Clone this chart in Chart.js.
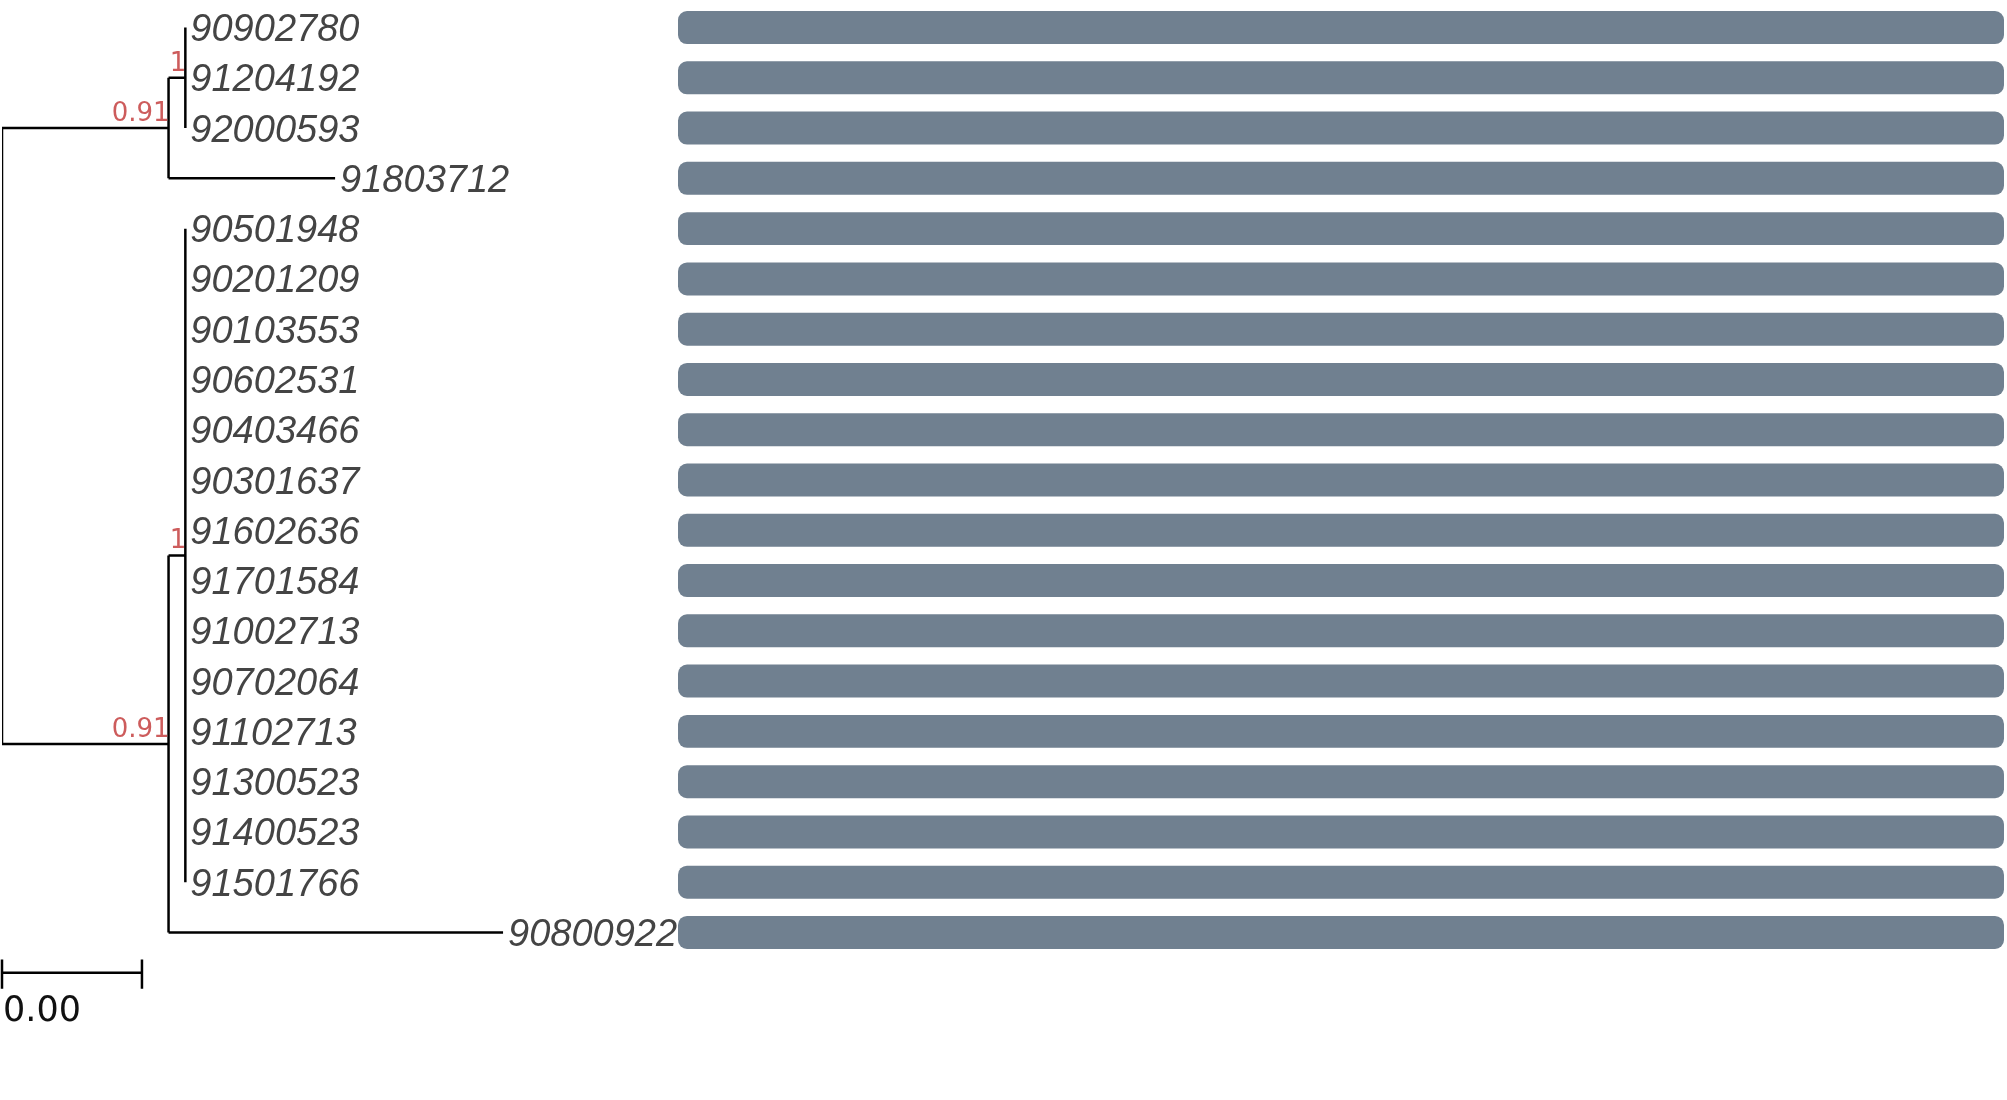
<!DOCTYPE html>
<html>
<head>
<meta charset="utf-8">
<script src="https://cdn.jsdelivr.net/npm/chart.js@4.4.1/dist/chart.umd.min.js"></script>
<style>
html, body { margin: 0; padding: 0; background: #fff; overflow: hidden; }
#treeBox { position: absolute; left: 0; top: 0; width: 678px; height: 1100px; }
#barBox { position: absolute; left: 678px; top: 0; width: 1329px; height: 1100px; }
</style>
</head>
<body>
<div id="treeBox"><canvas id="treeChart"></canvas></div>
<div id="barBox"><canvas id="barChart"></canvas></div>
<script>
// leaves, top to bottom
const leafNames = ['90902780', '91204192', '92000593', '91803712', '90501948', '90201209',
    '90103553', '90602531', '90403466', '90301637', '91602636', '91701584', '91002713',
    '90702064', '91102713', '91300523', '91400523', '91501766', '90800922'];
// parent node of each leaf and the branch length leading to it
const leafParent = [2, 2, 2, 1, 4, 4, 4, 4, 4, 4, 4, 4, 4, 4, 4, 4, 4, 4, 3];
const leafBranch = [0, 0, 0, 0.00119, 0, 0, 0, 0, 0, 0, 0, 0, 0, 0, 0, 0, 0, 0, 0.00239];
// internal nodes: 0 root, 1 upper clade, 2 its subclade, 3 lower clade, 4 its subclade
const nodeParent = [-1, 0, 1, 0, 3];
const nodeBranch = [0, 0.00119, 0.00012, 0.00119, 0.00012];
const nodeSupport = ['', '0.91', '1', '0.91', '1'];
// alignment length per sequence
const seqLength = [1000, 1000, 1000, 1000, 1000, 1000, 1000, 1000, 1000, 1000,
    1000, 1000, 1000, 1000, 1000, 1000, 1000, 1000, 1000];
const scaleBarLength = 0.001;

// node depths (parents listed before children)
const nodeX = [];
nodeParent.forEach((p, i) => { nodeX[i] = (p < 0 ? 0 : nodeX[p]) + nodeBranch[i]; });
const leafX = leafParent.map((p, i) => nodeX[p] + leafBranch[i]);

// node rows = middle of children, and the branch segments
const nodeY = [];
const segs = [];
for (let i = nodeParent.length - 1; i >= 0; i--) {
    const kids = [];
    leafParent.forEach((p, j) => { if (p === i) kids.push({ x: leafX[j], y: j }); });
    nodeParent.forEach((p, j) => { if (p === i) kids.push({ x: nodeX[j], y: nodeY[j] }); });
    const ys = kids.map(k => k.y);
    const lo = Math.min(...ys), hi = Math.max(...ys);
    nodeY[i] = (lo + hi) / 2;
    segs.push({ x: nodeX[i], y: lo }, { x: nodeX[i], y: hi }, { x: NaN, y: NaN });
    kids.forEach(k => {
        if (k.x > nodeX[i]) segs.push({ x: nodeX[i], y: k.y }, { x: k.x, y: k.y }, { x: NaN, y: NaN });
    });
}

const sbY = 18.8, sbTickTop = 18.54, sbTickBot = 19.12;
const scaleBar = [
    { x: 0, y: sbY }, { x: scaleBarLength, y: sbY }, { x: NaN, y: NaN },
    { x: 0, y: sbTickTop }, { x: 0, y: sbTickBot }, { x: NaN, y: NaN },
    { x: scaleBarLength, y: sbTickTop }, { x: scaleBarLength, y: sbTickBot }
];

const treeLabels = {
    id: 'treeLabels',
    afterDatasetsDraw(chart) {
        const ctx = chart.ctx;
        const xs = chart.scales.x, ys = chart.scales.y;
        ctx.save();
        ctx.fillStyle = '#444';
        ctx.font = 'italic 38px "Liberation Sans", Arial, sans-serif';
        ctx.textAlign = 'left';
        ctx.textBaseline = 'middle';
        leafNames.forEach((n, i) => {
            ctx.fillText(n, xs.getPixelForValue(leafX[i]) + 5, ys.getPixelForValue(i) + 3);
        });
        ctx.fillStyle = '#cd5c5c';
        ctx.font = '26px "DejaVu Sans", sans-serif';
        ctx.textAlign = 'right';
        ctx.textBaseline = 'alphabetic';
        nodeSupport.forEach((s, i) => {
            if (s) ctx.fillText(s, xs.getPixelForValue(nodeX[i]) + 1, ys.getPixelForValue(nodeY[i]) - 7);
        });
        ctx.fillStyle = '#111';
        ctx.font = '35px "DejaVu Sans", sans-serif';
        ctx.textAlign = 'left';
        ctx.textBaseline = 'top';
        ctx.fillText(scaleBarLength.toFixed(2), xs.getPixelForValue(0) + 1, ys.getPixelForValue(sbY) + 22);
        ctx.restore();
    }
};

new Chart(document.getElementById('treeChart'), {
    type: 'scatter',
    data: {
        datasets: [{
            data: segs,
            showLine: true,
            borderColor: '#000',
            borderWidth: 2.5,
            pointRadius: 0,
            spanGaps: false
        }, {
            data: scaleBar,
            showLine: true,
            borderColor: '#000',
            borderWidth: 2.5,
            pointRadius: 0,
            spanGaps: false,
            clip: false
        }]
    },
    options: {
        responsive: true,
        maintainAspectRatio: false,
        animation: false,
        layout: { padding: { left: 2, right: 0, top: 2.4, bottom: 142.4 } },
        plugins: { legend: { display: false }, tooltip: { enabled: false } },
        scales: {
            x: { type: 'linear', min: 0, max: 0.00483, display: false },
            y: { type: 'linear', min: -0.5, max: 18.5, reverse: true, display: false }
        }
    },
    plugins: [treeLabels]
});

new Chart(document.getElementById('barChart'), {
    type: 'bar',
    data: {
        labels: leafNames,
        datasets: [{
            data: seqLength,
            backgroundColor: '#708090',
            borderRadius: 9,
            borderSkipped: false,
            barPercentage: 0.656,
            categoryPercentage: 1
        }]
    },
    options: {
        indexAxis: 'y',
        responsive: true,
        maintainAspectRatio: false,
        animation: false,
        layout: { padding: { left: 0, right: 3, top: 2.4, bottom: 142.4 } },
        plugins: { legend: { display: false }, tooltip: { enabled: false } },
        scales: {
            x: { min: 0, max: 1000, display: false },
            y: { display: false }
        }
    }
});
</script>
</body>
</html>
